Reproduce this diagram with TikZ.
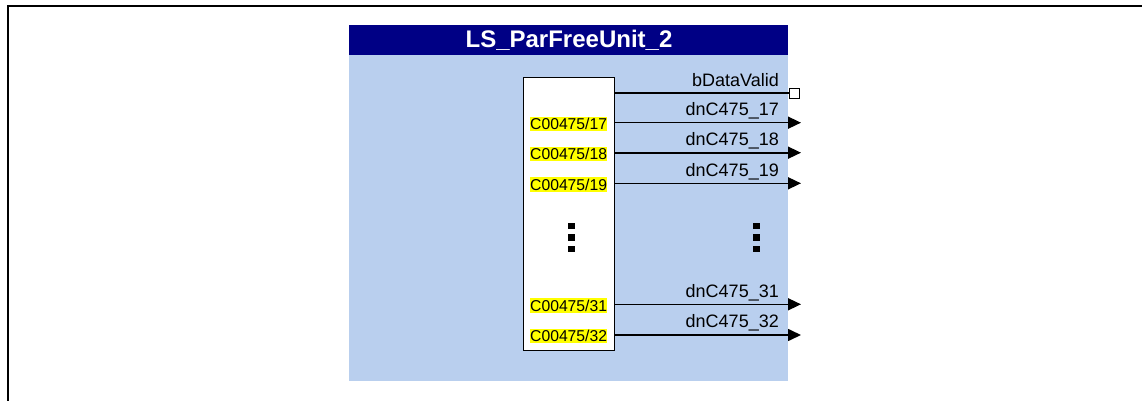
\documentclass[tikz,border=0pt]{standalone}
\usepackage{fontspec}
\setmainfont{Liberation Sans}
\usetikzlibrary{arrows.meta}
\definecolor{panelblue}{HTML}{B9CFEE}
\definecolor{titleblue}{HTML}{000085}
\definecolor{hlyellow}{HTML}{FFFF00}
\begin{document}
\begin{tikzpicture}[x=1pt,y=-1pt,
  outlbl/.style={anchor=base east,inner sep=0pt,font=\fontsize{18}{21}\selectfont},
  inlbl/.style={anchor=west,fill=hlyellow,inner xsep=0pt,inner ysep=1.5pt,font=\fontsize{15.7}{18}\selectfont},
  outline/.style={line width=1.6pt,-{Triangle[length=13pt,width=12pt]}},
  validline/.style={line width=1.6pt,-{Square[length=11pt,width=11pt,fill=white,line width=1.2pt]}},
  dotsq/.style={fill=black,minimum size=6.5pt,inner sep=0pt},
]
\useasboundingbox (0,0) rectangle (1142,401);
% outer frame
\draw[line width=2pt] (1142,6) -- (8,6) -- (8,401);
% panel
\fill[panelblue] (349,55) rectangle (788,381);
\fill[titleblue] (349,25) rectangle (788,55);
\node[text=white,font=\fontsize{24}{28}\selectfont\bfseries] (title) at (569,40.5) {LS\_ParFreeUnit\_2};
% inner box
\node[draw=black,fill=white,line width=1.2pt,minimum width=91pt,minimum height=273pt,inner sep=0pt,anchor=north west] (box) at (523,77) {};
% endpoints
\coordinate (vE) at (800,93.3);
\coordinate (e17) at (801,122.7);
\coordinate (e18) at (801,152.7);
\coordinate (e19) at (801,183.3);
\coordinate (e31) at (801,304.3);
\coordinate (e32) at (801,335);
% connectors
\draw[validline] (box.east |- vE) -- (vE);
\draw[outline] (box.east |- e17) -- (e17);
\draw[outline] (box.east |- e18) -- (e18);
\draw[outline] (box.east |- e19) -- (e19);
\draw[outline] (box.east |- e31) -- (e31);
\draw[outline] (box.east |- e32) -- (e32);
% output labels
\node[outlbl] (lv) at (779,86.5) {bDataValid};
\node[outlbl] (l17) at (779,115.5) {dnC475\_17};
\node[outlbl] (l18) at (779,145.5) {dnC475\_18};
\node[outlbl] (l19) at (779,176) {dnC475\_19};
\node[outlbl] (l31) at (779,297) {dnC475\_31};
\node[outlbl] (l32) at (779,327.5) {dnC475\_32};
% input labels
\node[inlbl] (c17) at (530,124) {C00475/17};
\node[inlbl] (c18) at (530,154) {C00475/18};
\node[inlbl] (c19) at (530,184.5) {C00475/19};
\node[inlbl] (c31) at (530,305.5) {C00475/31};
\node[inlbl] (c32) at (530,336) {C00475/32};
% dots
\node[dotsq] (dl1) at (571.5,226) {};
\node[dotsq] (dl2) at (571.5,237.5) {};
\node[dotsq] (dl3) at (571.5,249) {};
\node[dotsq] (dr1) at (756.5,226) {};
\node[dotsq] (dr2) at (756.5,237.5) {};
\node[dotsq] (dr3) at (756.5,249) {};
\end{tikzpicture}
\end{document}
